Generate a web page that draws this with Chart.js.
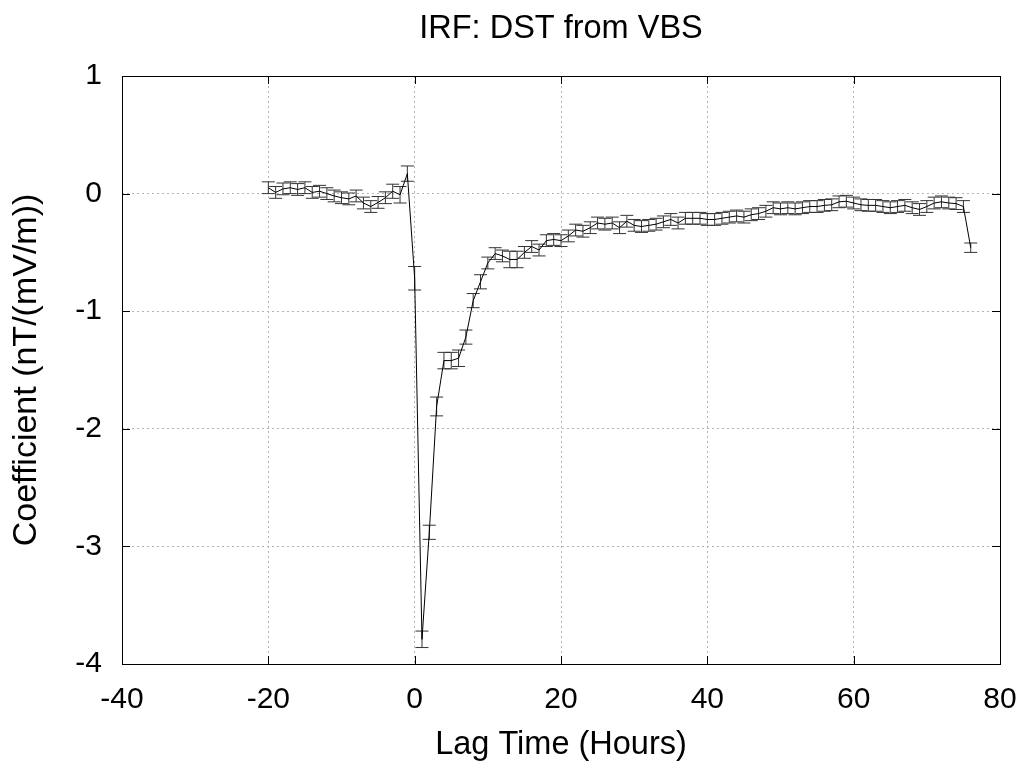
<!DOCTYPE html>
<html>
<head>
<meta charset="utf-8">
<script src="https://cdn.jsdelivr.net/npm/chart.js@4/dist/chart.umd.min.js"></script>
<style>
  html, body { margin: 0; padding: 0; background: #fff; }
  #wrap { width: 1023px; height: 769px; position: relative; }
</style>
</head>
<body>
<div id="wrap"><canvas id="c" width="1023" height="769"></canvas></div>
<script>
// ---- data ----
const lags = [
  -20,-19,-18,-17,-16,-15,-14,-13,-12,-11,-10,-9,-8,-7,-6,-5,-4,-3,-2,-1,
  0,1,2,3,4,5,6,7,8,9,10,11,12,13,14,15,16,17,18,19,
  20,21,22,23,24,25,26,27,28,29,30,31,32,33,34,35,36,37,38,39,
  40,41,42,43,44,45,46,47,48,49,50,51,52,53,54,55,56,57,58,59,
  60,61,62,63,64,65,66,67,68,69,70,71,72,73,74,75,76
];
const coefficients = [
  0.05,0.01,0.04,0.05,0.035,0.05,0.01,0.02,0.0,-0.02,-0.035,-0.045,-0.02,-0.08,-0.11,-0.075,-0.035,0.02,-0.01,0.17,
  -0.72,-3.79,-2.88,-1.81,-1.42,-1.42,-1.40,-1.22,-0.91,-0.75,-0.59,-0.51,-0.53,-0.56,-0.56,-0.50,-0.45,-0.48,-0.40,-0.39,
  -0.40,-0.36,-0.31,-0.32,-0.29,-0.25,-0.26,-0.25,-0.29,-0.235,-0.27,-0.28,-0.27,-0.26,-0.24,-0.22,-0.25,-0.21,-0.21,-0.21,
  -0.22,-0.22,-0.21,-0.20,-0.19,-0.20,-0.18,-0.17,-0.15,-0.12,-0.13,-0.12,-0.13,-0.12,-0.11,-0.11,-0.10,-0.095,-0.07,-0.065,
  -0.08,-0.095,-0.10,-0.10,-0.11,-0.12,-0.11,-0.10,-0.12,-0.135,-0.11,-0.08,-0.07,-0.08,-0.085,-0.11,-0.46
];
const errors = [
  0.05,0.05,0.05,0.05,0.05,0.05,0.05,0.05,0.05,0.05,0.05,0.05,0.05,0.05,0.05,0.05,0.05,0.06,0.07,0.065,
  0.10,0.07,0.06,0.08,0.07,0.07,0.07,0.06,0.06,0.06,0.05,0.05,0.05,0.07,0.07,0.05,0.05,0.05,0.05,0.05,
  0.05,0.05,0.05,0.05,0.05,0.05,0.05,0.05,0.05,0.05,0.05,0.05,0.05,0.05,0.05,0.05,0.05,0.05,0.05,0.05,
  0.05,0.05,0.05,0.05,0.05,0.05,0.05,0.05,0.05,0.05,0.05,0.05,0.05,0.05,0.05,0.05,0.05,0.05,0.05,0.05,
  0.05,0.05,0.05,0.05,0.05,0.05,0.05,0.05,0.05,0.05,0.05,0.05,0.05,0.05,0.05,0.05,0.04
];
const xTicks = [-40, -20, 0, 20, 40, 60, 80];
const yTicks = [-4, -3, -2, -1, 0, 1];
const titleText = 'IRF: DST from VBS';
const xTitle = 'Lag Time (Hours)';
const yTitle = 'Coefficient (nT/(mV/m))';

// ---- chart ----
const FONT = '"Liberation Sans", Arial, Helvetica, sans-serif';

const errorBarPlugin = {
  id: 'errorBars',
  beforeDatasetsDraw(chart) {
    const ctx = chart.ctx;
    const xs = chart.scales.x, ys = chart.scales.y;
    ctx.save();
    ctx.strokeStyle = '#333';
    ctx.lineWidth = 1;
    const cap = 6.5;
    for (let i = 0; i < lags.length; i++) {
      const px = xs.getPixelForValue(lags[i]);
      const top = ys.getPixelForValue(coefficients[i] + errors[i]);
      const bot = ys.getPixelForValue(coefficients[i] - errors[i]);
      ctx.beginPath();
      ctx.moveTo(px, top); ctx.lineTo(px, bot);
      ctx.moveTo(px - cap, top); ctx.lineTo(px + cap, top);
      ctx.moveTo(px - cap, bot); ctx.lineTo(px + cap, bot);
      ctx.stroke();
    }
    ctx.restore();
  }
};

const framePlugin = {
  id: 'frame',
  afterDraw(chart) {
    const ctx = chart.ctx;
    const a = chart.chartArea;
    const xs = chart.scales.x, ys = chart.scales.y;
    const tl = 8;
    ctx.save();
    ctx.strokeStyle = '#000';
    ctx.lineWidth = 1;
    ctx.beginPath();
    xTicks.forEach(v => {
      const px = Math.round(xs.getPixelForValue(v)) + 0.5;
      ctx.moveTo(px, a.bottom); ctx.lineTo(px, a.bottom - tl);
      ctx.moveTo(px, a.top); ctx.lineTo(px, a.top + tl);
    });
    yTicks.forEach(v => {
      const py = Math.round(ys.getPixelForValue(v)) + 0.5;
      ctx.moveTo(a.left, py); ctx.lineTo(a.left + tl, py);
      ctx.moveTo(a.right, py); ctx.lineTo(a.right - tl, py);
    });
    ctx.stroke();
    ctx.strokeRect(Math.round(a.left) + 0.5, Math.round(a.top) + 0.5,
                   Math.round(a.right - a.left), Math.round(a.bottom - a.top));
    ctx.restore();
  }
};

new Chart(document.getElementById('c'), {
  type: 'line',
  data: {
    datasets: [{
      label: 'IRF',
      data: lags.map((x, i) => ({ x: x, y: coefficients[i] })),
      borderColor: '#000',
      borderWidth: 1,
      pointRadius: 0,
      tension: 0,
      fill: false
    }]
  },
  options: {
    responsive: false,
    animation: false,
    devicePixelRatio: 1,
    layout: { padding: { left: 0, right: 23, top: 0, bottom: 0 } },
    plugins: {
      legend: { display: false },
      tooltip: { enabled: false },
      title: {
        display: true,
        text: titleText,
        fullSize: false,
        color: '#000',
        font: { family: FONT, size: 32.5, weight: 'normal' },
        padding: { top: 10, bottom: 27 }
      }
    },
    scales: {
      x: {
        type: 'linear',
        min: -40, max: 80,
        afterBuildTicks(scale) { scale.ticks = xTicks.map(v => ({ value: v })); },
        afterFit(scale) { scale.height = 105; scale.paddingLeft = 0; scale.paddingRight = 0; },
        ticks: {
          color: '#000',
          font: { family: FONT, size: 30 },
          padding: 18,
          maxRotation: 0,
          callback: (v) => String(v)
        },
        grid: { color: '#b4b4b4', lineWidth: 1, drawTicks: false },
        border: { display: false, dash: [2, 3] },
        title: {
          display: true, text: xTitle, color: '#000',
          font: { family: FONT, size: 32.5 },
          padding: { top: 0, bottom: 4 }
        }
      },
      y: {
        type: 'linear',
        min: -4, max: 1,
        afterBuildTicks(scale) { scale.ticks = yTicks.map(v => ({ value: v })); },
        afterFit(scale) { scale.width = 122; scale.paddingTop = 0; scale.paddingBottom = 0; },
        ticks: {
          color: '#000',
          font: { family: FONT, size: 30 },
          padding: 20,
          callback: (v) => String(v)
        },
        grid: { color: '#b4b4b4', lineWidth: 1, drawTicks: false },
        border: { display: false, dash: [2, 3] },
        title: {
          display: true, text: yTitle, color: '#000',
          font: { family: FONT, size: 34 },
          padding: { top: 6, bottom: 0 }
        }
      }
    }
  },
  plugins: [errorBarPlugin, framePlugin]
});
</script>
</body>
</html>
